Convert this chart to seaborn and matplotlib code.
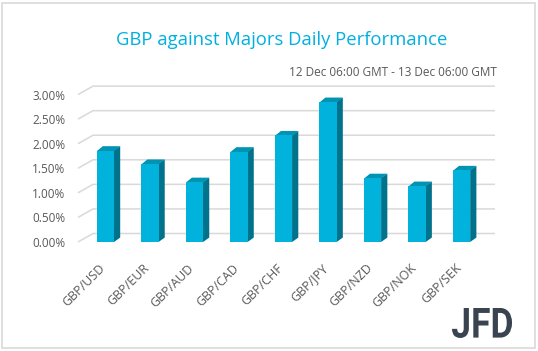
import numpy as np
import pandas as pd
import matplotlib
matplotlib.use("Agg")
import matplotlib.pyplot as plt
from matplotlib.patches import Polygon, Rectangle, PathPatch
from matplotlib.textpath import TextPath
from matplotlib.font_manager import FontProperties
from matplotlib.transforms import Affine2D, ScaledTranslation
import seaborn as sns

# --- Data ---
pairs = ["GBP/USD", "GBP/EUR", "GBP/AUD", "GBP/CAD", "GBP/CHF",
         "GBP/JPY", "GBP/NZD", "GBP/NOK", "GBP/SEK"]
change_pct = [1.86, 1.59, 1.22, 1.84, 2.17, 2.85, 1.30, 1.14, 1.46]
y_ticks = [0.0, 0.5, 1.0, 1.5, 2.0, 2.5, 3.0]

title = "GBP against Majors Daily Performance"
subtitle = "12 Dec 06:00 GMT - 13 Dec 06:00 GMT"

# --- Style ---
FRONT = "#00B2DC"
SIDE = "#00728B"
TOP = "#0094B2"
GRID = "#D9D9D9"
TXT = "#595959"

sns.set_style("white")
plt.rcParams["font.family"] = ["Open Sans", "DejaVu Sans"]

W, H = 538, 351
fig = plt.figure(figsize=(W / 100, H / 100), dpi=100)

# axes placed in pixel terms (front plane: 0% at y=242, 49 px per 1%)
ax_left, ax_right = 78, 495
ax_bottom, ax_top = 242, 86
ax = fig.add_axes([ax_left / W, (H - ax_bottom) / H,
                   (ax_right - ax_left) / W, (ax_bottom - ax_top) / H])

df = pd.DataFrame({"pair": pairs, "change": change_pct})
sns.barplot(data=df, x="pair", y="change", color=FRONT, saturation=1,
            width=0.39, linewidth=0, ax=ax, zorder=3)

xl, xr = -0.618, 8.748
ax.set_xlim(xl, xr)
ax.set_ylim(0, 3.175)

# 3D wall offsets (data units)
wall_dx, wall_dy = 0.337, 0.173
# gridlines: slanted segment on the side wall + back wall line
for v in y_ticks:
    ax.plot([xl, xl + wall_dx, xr], [v, v + wall_dy, v + wall_dy],
            color=GRID, lw=1.1, zorder=1, clip_on=False, solid_capstyle="butt")

# bar depth faces
bar_dx, bar_dy = 0.135, 0.09
for p in ax.patches[:len(pairs)]:
    x0, w, h = p.get_x(), p.get_width(), p.get_height()
    x1 = x0 + w
    side = Polygon([(x1 - 0.005, 0), (x1 + bar_dx, bar_dy), (x1 + bar_dx, h + bar_dy), (x1 - 0.005, h)],
                   closed=True, facecolor=SIDE, edgecolor="none", zorder=2.9, clip_on=False)
    top = Polygon([(x0, h - 0.01), (x0 + bar_dx, h + bar_dy), (x1 + bar_dx, h + bar_dy), (x1, h - 0.01)],
                  closed=True, facecolor=TOP, edgecolor="none", zorder=2.9, clip_on=False)
    ax.add_patch(side)
    ax.add_patch(top)

ax.set_yticks(y_ticks)
ax.set_yticklabels([f"{v:.2f}%" for v in y_ticks], color=TXT, fontsize=8.5)
ax.tick_params(axis="y", length=0, pad=9)
ax.tick_params(axis="x", length=0, pad=14)
shift = ScaledTranslation(-5 / 72, 0, fig.dpi_scale_trans)
for lab in ax.get_xticklabels():
    lab.set_rotation(45)
    lab.set_ha("right")
    lab.set_rotation_mode("anchor")
    lab.set_color(TXT)
    lab.set_fontsize(9)
    lab.set_transform(lab.get_transform() + shift)
ax.set_xlabel("")
ax.set_ylabel("")
sns.despine(ax=ax, left=True, bottom=True)

# titles
fig.text(282 / W, 1 - 40 / H, title, ha="center", va="center",
         color="#00B0E0", fontsize=13.3)
fig.text(497 / W, 1 - 73 / H, subtitle, ha="right", va="center",
         color=TXT, fontsize=8.5)

# logo, squeezed into its box (pixels x 452-512, y 308-338)
tp = TextPath((0, 0), "JFD", size=10, prop=FontProperties(family="Roboto", weight="bold"))
ext = tp.get_extents()
bx0, bx1, by_top, by_bot = 452, 512, 308, 338
sx = (bx1 - bx0) / W / ext.width
sy = (by_bot - by_top) / H / ext.height
logo_tf = (Affine2D().translate(-ext.x0, -ext.y0).scale(sx, sy)
           .translate(bx0 / W, 1 - by_bot / H) + fig.transFigure)
fig.add_artist(PathPatch(tp, transform=logo_tf, facecolor="#3A4350", edgecolor="none"))

# outer border
fig.add_artist(Rectangle((2 / W, 3 / H), (W - 5) / W, (H - 6) / H,
                         transform=fig.transFigure, fill=False,
                         edgecolor=GRID, lw=1.2))

fig.savefig("out.png", dpi=100, facecolor="white")
